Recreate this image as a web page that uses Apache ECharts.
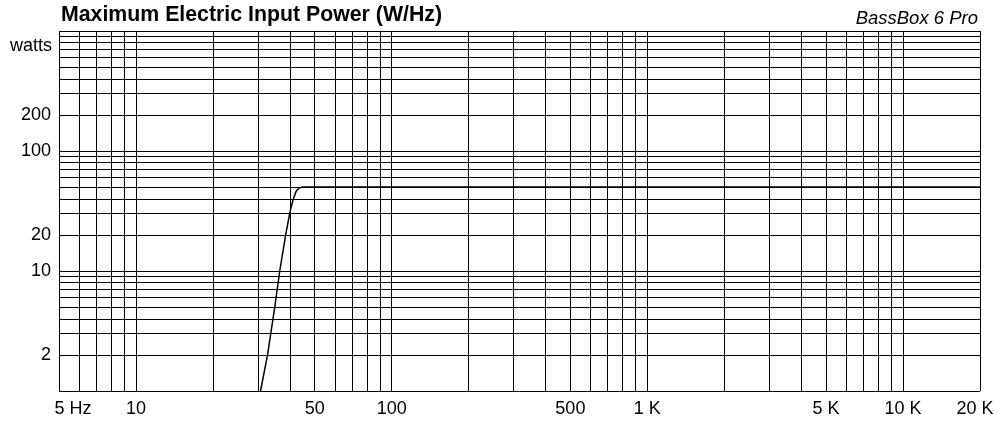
<!DOCTYPE html>
<html>
<head>
<meta charset="utf-8">
<script src="https://cdn.jsdelivr.net/npm/echarts@6/dist/echarts.min.js"></script>
<style>
html,body{margin:0;padding:0;background:#fff;}
#c{width:1001px;height:421px;}
</style>
</head>
<body>
<div id="c"></div>
<script>
// Curve: frequency (Hz) vs maximum electric input power (W)
const freqHz = [30.7, 32.7, 34.9, 36.5, 38.5, 40.0, 41.2, 42.4, 43.5, 44.6, 20000];
const powerW = [1, 2, 5, 10, 20, 30.8, 39.7, 46.6, 49.2, 50, 50];

// Grid lines (log decades 1..9)
const xGrid = [5,6,7,8,9,10,20,30,40,50,60,70,80,90,100,200,300,400,500,600,700,800,900,
  1000,2000,3000,4000,5000,6000,7000,8000,9000,10000,20000];
const yGrid = [1,2,3,4,5,6,7,8,9,10,20,30,40,50,60,70,80,90,100,200,300,400,500,600,700,800,900,1000];

// Tick labels
const xTickValues = [5, 10, 50, 100, 500, 1000, 5000, 10000, 20000];
const xTickLabels = ['5 Hz', '10', '50', '100', '500', '1 K', '5 K', '10 K', '20 K'];
const yTickValues = [2, 10, 20, 100, 200];
const yTickLabels = ['2', '10', '20', '100', '200'];

const titleText = 'Maximum Electric Input Power (W/Hz)';
const subText = 'BassBox 6 Pro';
const yUnit = 'watts';

const FONT = '"Liberation Sans", Arial, Helvetica, sans-serif';
const FS = 18;
const chart = echarts.init(document.getElementById('c'), null, {renderer: 'canvas'});

const gridColor = '#000';
const mlData = xGrid.map(v => ({xAxis: v})).concat(yGrid.map(v => ({yAxis: v})));

chart.setOption({
  animation: false,
  backgroundColor: '#fff',
  title: [
    {text: titleText, left: 61, top: 5, padding: 0,
     textStyle: {fontFamily: FONT, fontWeight: 'bold', fontSize: 21.3, color: '#000'}},
    {text: subText, right: 23, top: 9, padding: 0,
     textStyle: {fontFamily: FONT, fontStyle: 'italic', fontWeight: 'normal', fontSize: 18.5, color: '#000'}}
  ],
  graphic: [
    {type: 'text', right: 1001 - 52, top: 37,
     style: {text: yUnit, font: FS + 'px ' + FONT, fill: '#000', textAlign: 'right'}}
  ],
  grid: {left: 59, right: 21, top: 31, bottom: 30, show: false},
  xAxis: {
    type: 'log', logBase: 10, min: 5, max: 20000,
    axisLine: {show: false}, axisTick: {show: false}, splitLine: {show: false},
    minorTick: {show: false}, minorSplitLine: {show: false},
    axisLabel: {
      customValues: xTickValues, margin: 9, color: '#000', fontFamily: FONT, fontSize: FS,
      showMinLabel: true, showMaxLabel: true, hideOverlap: false,
      formatter: function (v) {
        const i = xTickValues.findIndex(t => Math.abs(t - v) / t < 1e-6);
        const s = i >= 0 ? xTickLabels[i] : '';
        if (i === 0) return '{first|' + s + '}';
        if (i === xTickValues.length - 1) return '{last|' + s + '}';
        return s;
      },
      rich: {
        first: {padding: [0, 0, 0, 28], fontFamily: FONT, fontSize: FS, color: '#000'},
        last: {padding: [0, 10, 0, 0], fontFamily: FONT, fontSize: FS, color: '#000'}
      }
    }
  },
  yAxis: {
    type: 'log', logBase: 10, min: 1, max: 1000,
    axisLine: {show: false}, axisTick: {show: false}, splitLine: {show: false},
    minorTick: {show: false}, minorSplitLine: {show: false},
    axisLabel: {
      customValues: yTickValues, margin: 8, color: '#000', fontFamily: FONT, fontSize: FS,
      formatter: function (v) {
        const i = yTickValues.findIndex(t => Math.abs(t - v) / t < 1e-6);
        return i >= 0 ? yTickLabels[i] : '';
      }
    }
  },
  series: [
    {
      type: 'line', name: 'grid', data: [], silent: true,
      markLine: {
        silent: true, symbol: ['none', 'none'], animation: false,
        label: {show: false},
        lineStyle: {type: 'solid', color: gridColor, width: 1},
        emphasis: {disabled: true},
        data: mlData
      }
    },
    {
      type: 'line', name: 'power', showSymbol: false, symbol: 'none', smooth: false,
      lineStyle: {color: '#000', width: 1.5},
      data: freqHz.map((f, i) => [f, powerW[i]]),
      z: 5
    }
  ]
});
</script>
</body>
</html>
